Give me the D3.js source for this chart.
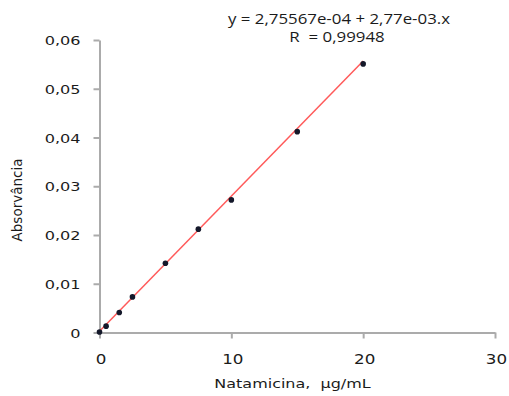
<!DOCTYPE html>
<html>
<head>
<meta charset="utf-8">
<script src="https://cdn.jsdelivr.net/npm/d3@7"></script>
<style>
  html, body { margin: 0; padding: 0; background: #fff; }
  svg { display: block; }
  text { fill: #1b1b1b; }
</style>
</head>
<body>
<svg id="chart" width="509" height="396"></svg>
<script>
// Calibration curve: natamycin concentration vs absorbance
const concentration = [0, 0.5, 1.5, 2.5, 5, 7.5, 10, 15, 20];          // µg/mL
const absorbance    = [0.0001, 0.0013, 0.0041, 0.0073, 0.0142, 0.0212, 0.0272, 0.0412, 0.0551];
const xTicks = [0, 10, 20, 30];
const yTicks = [0, 0.01, 0.02, 0.03, 0.04, 0.05, 0.06];
const fitIntercept = 2.75567e-04;
const fitSlope = 2.77e-03;
const fitRange = [0, 20];
const equationLines = ["y = 2,75567e-04 + 2,77e-03.x", "R  = 0,99948"];
const xTitle = "Natamicina,  µg/mL";
const yTitle = "Absorvância";

const W = 509, H = 396;
const SX = 1.24; // horizontal widening applied to all text glyphs
const axisColor = "#ababab";
const font = "'DejaVu Sans', Verdana, sans-serif";

const svg = d3.select("#chart");

const x = d3.scaleLinear().domain([0, 30]).range([99.5, 495]);
const y = d3.scaleLinear().domain([0, 0.06]).range([332.5, 40]);

const comma = d3.formatLocale({ decimal: ",", thousands: ".", grouping: [3], currency: ["", ""] });
const fmtY = v => v === 0 ? "0" : comma.format(".2f")(v);

// Y axis
const gy = svg.append("g")
  .attr("transform", `translate(${x(0)},0)`)
  .call(d3.axisLeft(y).tickValues(yTicks).tickFormat(fmtY).tickSize(6).tickPadding(13).tickSizeOuter(0));
gy.select(".domain").attr("stroke", axisColor).attr("stroke-width", 2);
gy.selectAll(".tick line").attr("stroke", axisColor).attr("stroke-width", 2);
gy.selectAll(".tick text")
  .attr("font-family", font).attr("font-size", 13)
  .attr("x", -19 / SX).attr("dy", "0.36em")
  .attr("transform", `scale(${SX},1)`);

// X axis
const gx = svg.append("g")
  .attr("transform", `translate(0,${y(0)})`)
  .call(d3.axisBottom(x).tickValues(xTicks).tickFormat(d3.format("d")).tickSize(6).tickPadding(16).tickSizeOuter(0));
gx.select(".domain").attr("stroke", axisColor).attr("stroke-width", 2);
gx.selectAll(".tick line").attr("stroke", axisColor).attr("stroke-width", 2);
gx.selectAll(".tick text")
  .attr("font-family", font).attr("font-size", 13.5)
  .attr("x", 0)
  .attr("transform", `translate(1,0) scale(${SX},1)`);

// Fitted regression line
const fitPts = fitRange.map(v => [v, fitIntercept + fitSlope * v]);
svg.append("path")
  .datum(fitPts)
  .attr("fill", "none")
  .attr("stroke", "#ff5a5a")
  .attr("stroke-width", 1.5)
  .attr("d", d3.line().x(d => x(d[0])).y(d => y(d[1])));

// Measured points
svg.append("g").selectAll("circle")
  .data(concentration.map((c, i) => [c, absorbance[i]]))
  .join("circle")
  .attr("cx", d => x(d[0]))
  .attr("cy", d => y(d[1]))
  .attr("r", 2.8)
  .attr("fill", "#14182a");

// Equation annotation
const eqPos = [[339, 24], [337, 42]];
equationLines.forEach((t, i) => {
  svg.append("g")
    .attr("transform", `translate(${eqPos[i][0]},${eqPos[i][1]}) scale(${SX},1)`)
    .append("text")
    .attr("text-anchor", "middle")
    .attr("font-family", "'Open Sans', sans-serif")
    .attr("font-size", 13.6)
    .style("white-space", "pre")
    .text(t);
});

// Axis titles
svg.append("g")
  .attr("transform", `translate(292.5,388) scale(${SX},1)`)
  .append("text")
  .attr("text-anchor", "middle")
  .attr("font-family", font)
  .attr("font-size", 12.9)
  .style("white-space", "pre")
  .text(xTitle);

svg.append("g")
  .attr("transform", `translate(22,200) rotate(-90)`)
  .append("text")
  .attr("text-anchor", "middle")
  .attr("font-family", font)
  .attr("font-size", 13.5)
  .text(yTitle);
</script>
</body>
</html>
